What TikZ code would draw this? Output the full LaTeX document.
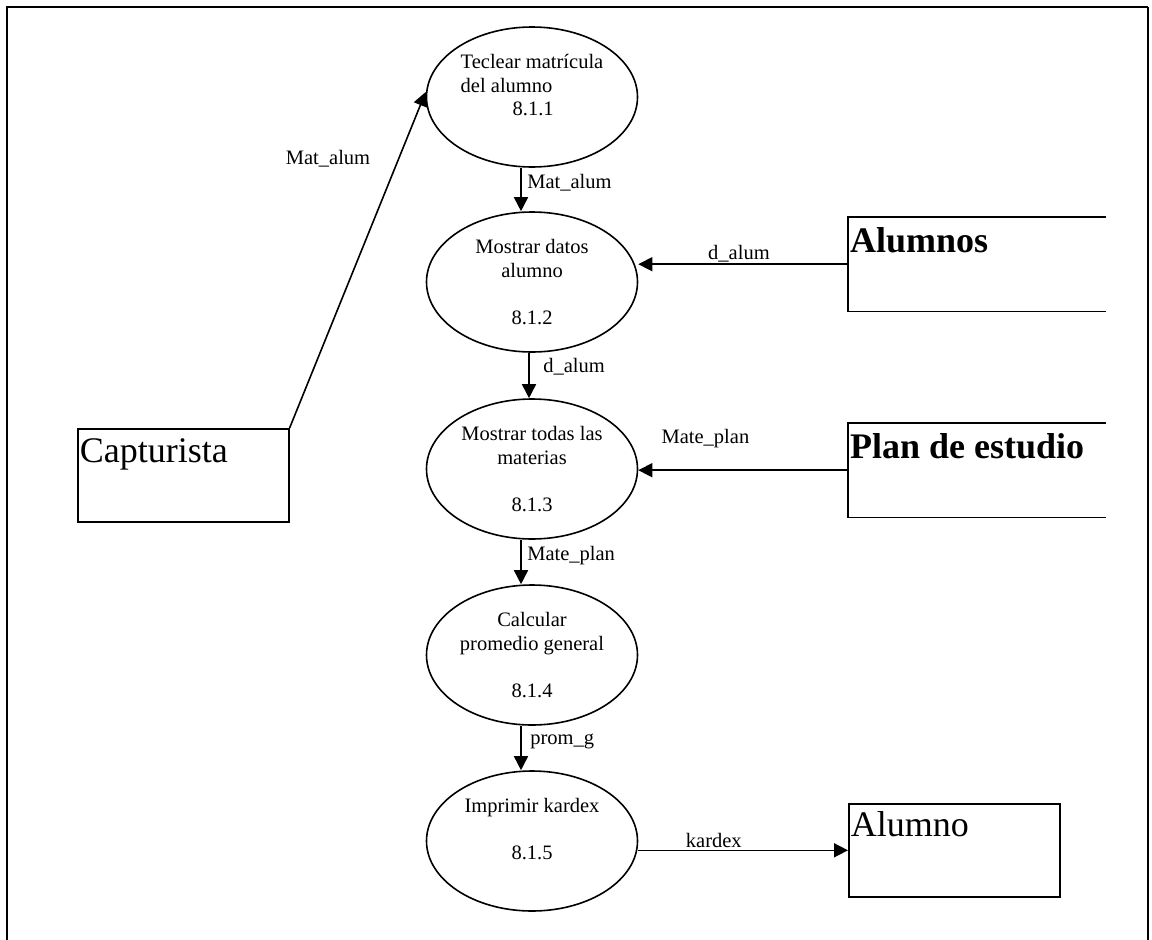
\documentclass[tikz,border=0pt]{standalone}
\usepackage{fontspec}
\setmainfont{Liberation Serif}
\usetikzlibrary{positioning}
\usetikzlibrary{shapes.geometric}
\usetikzlibrary{arrows.meta}

\begin{document}
\begin{tikzpicture}[x=1pt, y=-1pt,
    proc/.style={draw, line width=1.6pt, ellipse, minimum width=211pt, minimum height=140pt,
        inner sep=0pt, align=center, font=\fontsize{20.5}{23.7}\selectfont},
    ent/.style={draw, line width=1.6pt, anchor=north west, inner xsep=2pt, inner ysep=0pt,
        text width=207pt, align=flush left, text height=34pt, text depth=59pt,
        font=\fontsize{36}{40}\selectfont},
    store/.style={anchor=north west, inner xsep=2pt, inner ysep=0pt, text width=254pt,
        align=flush left, text height=35pt, text depth=59pt, font=\fontsize{36}{40}\selectfont\bfseries},
    flow/.style={line width=1.6pt, -{Triangle[length=14pt, width=14pt]}},
    lbl/.style={inner sep=1.5pt, font=\fontsize{20.5}{23.7}\selectfont}]

    \useasboundingbox (0,0) rectangle (1152,940);

    % frame
    \draw[line width=2.5pt] (7,940) -- (7,7) -- (1148,7);
    \draw[line width=1.5pt] (1148,7) -- (1148,940);

    % processes
    \node[proc, align=left] (p1) at (532,97) {Teclear matrícula\\del alumno\\\hspace*{52pt}8.1.1\\\mbox{}};
    \node[proc] (p2) at (532,282) {Mostrar datos\\alumno\\\mbox{}\\8.1.2};
    \node[proc] (p3) at (532,469) {Mostrar todas las\\materias\\\mbox{}\\8.1.3};
    \node[proc] (p4) at (532,655) {Calcular\\promedio general\\\mbox{}\\8.1.4};
    \node[proc] (p5) at (532,841) {Imprimir kardex\\\mbox{}\\8.1.5\\\mbox{}};

    % entities and stores
    \node[ent] (cap) at (77,428) {Capturista};
    \node[ent, text height=33pt, text depth=60pt] (alm) at (848,803) {Alumno};
    \node[store] (als) at (848,217) {Alumnos};
    \draw[line width=1.6pt] (als.north east) -- (als.north west) -- (als.south west) -- (als.south east);
    \node[store] (pln) at (848,423) {Plan de estudio};
    \draw[line width=1.6pt] (pln.north east) -- (pln.north west) -- (pln.south west) -- (pln.south east);

    % flows
    \draw[flow] (cap.north east) -- ([yshift=5pt]p1.west)
        node[lbl, pos=0.8, left=26pt] {Mat\_alum};
    \draw[flow] ([xshift=-11pt]p1.south) -- ([xshift=-11pt]p2.north)
        node[lbl, pos=0.35, right=4pt] {Mat\_alum};
    \draw[flow] ([xshift=-3pt]p2.south) -- ([xshift=-3pt]p3.north)
        node[lbl, pos=0.3, right=12pt] {d\_alum};
    \draw[flow] ([xshift=-11pt]p3.south) -- ([xshift=-11pt]p4.north)
        node[lbl, pos=0.35, right=4pt] {Mate\_plan};
    \draw[flow] ([xshift=-11pt]p4.south) -- ([xshift=-11pt]p5.north)
        node[lbl, pos=0.35, right=7pt] {prom\_g};
    \draw[flow] (als.west) -- (als.west -| p2.east)
        node[lbl, pos=0.52, above] {d\_alum};
    \draw[flow] (pln.west) -- (pln.west -| p3.east)
        node[lbl, pos=0.68, above=20pt] {Mate\_plan};
    \draw[flow] (p5.east |- alm.west) -- (alm.west)
        node[lbl, pos=0.36, above] {kardex};
\end{tikzpicture}
\end{document}
